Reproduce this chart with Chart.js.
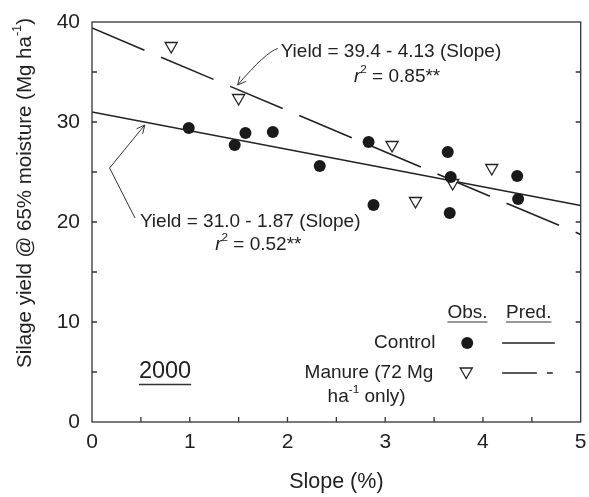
<!DOCTYPE html>
<html>
<head>
<meta charset="utf-8">
<script src="https://cdn.jsdelivr.net/npm/chart.js@4.4.1/dist/chart.umd.min.js"></script>
<style>
    html, body { margin: 0; padding: 0; background: #fff; }
</style>
</head>
<body>
<canvas id="yieldChart" width="589" height="497"></canvas>
<script>
// Observed silage yield vs slope, 2000
const controlSlope = [0.99, 1.46, 1.57, 1.85, 2.33, 2.83, 2.88, 3.64, 3.67, 3.66, 4.35, 4.36];
const controlYield = [29.4, 27.7, 28.9, 29.0, 25.6, 28.0, 21.7, 27.0, 24.5, 20.9, 24.6, 22.3];
const manureSlope = [0.81, 1.50, 3.07, 3.31, 3.69, 4.09];
const manureYield = [37.6, 32.4, 27.7, 22.1, 23.9, 25.4];

// Regression line end points
const fitSlope = [0, 5];
const controlFit = [31.0, 21.65];
const manureFit = [39.4, 18.75];

// Axis ticks
const xTicks = [0, 1, 2, 3, 4, 5];
const yTicks = [0, 10, 20, 30, 40];

const FAMILY = "'Liberation Sans', Arial, sans-serif";
const INK = '#222';

function toPoints(xs, ys) {
    return xs.map((x, i) => ({ x: x, y: ys[i] }));
}

// Draw text made of runs: [text, style] with style '', 'it' or 'sup'
function drawRich(ctx, runs, x, y, size, align) {
    const parts = runs.map(r => {
        const fs = r[1] === 'sup' ? size * 0.62 : size;
        const font = (r[1] === 'it' ? 'italic ' : '') + fs + 'px ' + FAMILY;
        ctx.font = font;
        return { t: r[0], font: font, w: ctx.measureText(r[0]).width, dy: r[1] === 'sup' ? -size * 0.38 : 0 };
    });
    const total = parts.reduce((s, p) => s + p.w, 0);
    let cx = align === 'center' ? x - total / 2 : (align === 'right' ? x - total : x);
    ctx.textAlign = 'left';
    ctx.textBaseline = 'middle';
    parts.forEach(p => {
        ctx.font = p.font;
        ctx.fillText(p.t, cx, y + p.dy);
        cx += p.w;
    });
    return total;
}

function arrowHead(ctx, tipX, tipY, fromX, fromY) {
    const a = Math.atan2(tipY - fromY, tipX - fromX);
    const len = 9, spread = 0.45;
    ctx.beginPath();
    ctx.moveTo(tipX - len * Math.cos(a - spread), tipY - len * Math.sin(a - spread));
    ctx.lineTo(tipX, tipY);
    ctx.lineTo(tipX - len * Math.cos(a + spread), tipY - len * Math.sin(a + spread));
    ctx.stroke();
}

const framePlugin = {
    id: 'frame',
    afterDraw(chart) {
        const ctx = chart.ctx;
        const xs = chart.scales.x, ys = chart.scales.y;
        const a = chart.chartArea;
        const px = v => xs.getPixelForValue(v);
        const py = v => ys.getPixelForValue(v);
        ctx.save();
        ctx.strokeStyle = '#333';
        ctx.fillStyle = INK;
        ctx.lineWidth = 1.3;

        // box
        ctx.strokeRect(a.left, a.top, a.right - a.left, a.bottom - a.top);

        // inward ticks: bottom every 0.5, left and right every 5
        ctx.beginPath();
        for (let v = 0.5; v < 5; v += 0.5) {
            ctx.moveTo(px(v), a.bottom);
            ctx.lineTo(px(v), a.bottom - 5);
        }
        for (let v = 5; v < 40; v += 5) {
            ctx.moveTo(a.left, py(v));
            ctx.lineTo(a.left + 5, py(v));
            ctx.moveTo(a.right, py(v));
            ctx.lineTo(a.right - 5, py(v));
        }
        ctx.stroke();

        // axis titles
        drawRich(ctx, [['Slope (%)', '']], (a.left + a.right) / 2, 482, 21.5, 'center');
        ctx.save();
        ctx.translate(25, 193);
        ctx.rotate(-Math.PI / 2);
        drawRich(ctx, [['Silage yield @ 65% moisture (Mg ha', ''], ['-1', 'sup'], [')', '']], 0, 0, 20.5, 'center');
        ctx.restore();

        // equations
        ctx.lineWidth = 1;
        drawRich(ctx, [['Yield = 39.4 - 4.13 (Slope)', '']], px(1.93), py(37.0), 19, 'left');
        drawRich(ctx, [['r', 'it'], ['2', 'sup'], [' = 0.85**', '']], px(2.68), py(34.5), 19, 'left');
        drawRich(ctx, [['Yield = 31.0 - 1.87 (Slope)', '']], px(0.49), py(20.0), 19, 'left');
        drawRich(ctx, [['r', 'it'], ['2', 'sup'], [' = 0.52**', '']], px(1.26), py(17.7), 19, 'left');

        // upper arrow (curved)
        const s0 = [px(1.90), py(37.35)], c0 = [px(1.78), py(37.0)], e0 = [px(1.49), py(33.7)];
        ctx.beginPath();
        ctx.moveTo(s0[0], s0[1]);
        ctx.quadraticCurveTo(c0[0], c0[1], e0[0], e0[1]);
        ctx.stroke();
        arrowHead(ctx, e0[0], e0[1], c0[0], c0[1]);

        // lower arrow (bent)
        const p1 = [px(0.44), py(20.4)], p2 = [px(0.18), py(25.4)], p3 = [px(0.54), py(29.7)];
        ctx.beginPath();
        ctx.moveTo(p1[0], p1[1]);
        ctx.lineTo(p2[0], p2[1]);
        ctx.lineTo(p3[0], p3[1]);
        ctx.stroke();
        arrowHead(ctx, p3[0], p3[1], p2[0], p2[1]);

        // year label
        ctx.lineWidth = 1.5;
        const w2000 = drawRich(ctx, [['2000', '']], px(0.48), py(5.0), 23.5, 'left');
        ctx.beginPath();
        ctx.moveTo(px(0.48), py(5.0) + 12.5);
        ctx.lineTo(px(0.48) + w2000, py(5.0) + 12.5);
        ctx.stroke();

        // legend
        ctx.lineWidth = 1.2;
        const wObs = drawRich(ctx, [['Obs.', '']], px(3.636), py(10.9), 19, 'left');
        const wPred = drawRich(ctx, [['Pred.', '']], px(4.236), py(10.9), 19, 'left');
        ctx.beginPath();
        ctx.moveTo(px(3.636), py(10.9) + 9);
        ctx.lineTo(px(3.636) + wObs, py(10.9) + 9);
        ctx.moveTo(px(4.236), py(10.9) + 9);
        ctx.lineTo(px(4.236) + wPred, py(10.9) + 9);
        ctx.stroke();

        drawRich(ctx, [['Control', '']], px(3.513), py(7.9), 19, 'right');
        drawRich(ctx, [['Manure (72 Mg', '']], px(3.493), py(4.9), 19, 'right');
        drawRich(ctx, [['ha', ''], ['-1', 'sup'], [' only)', '']], px(2.81), py(2.5), 19, 'center');

        ctx.fillStyle = '#1a1a1a';
        ctx.beginPath();
        ctx.arc(px(3.839), py(7.9), 6, 0, Math.PI * 2);
        ctx.fill();

        const tx = px(3.829), ty = py(4.9) - 1.5, r = 7;
        ctx.fillStyle = '#fff';
        ctx.strokeStyle = '#222';
        ctx.lineWidth = 1.3;
        ctx.beginPath();
        ctx.moveTo(tx, ty + r);
        ctx.lineTo(tx - r * 0.866, ty - r / 2);
        ctx.lineTo(tx + r * 0.866, ty - r / 2);
        ctx.closePath();
        ctx.fill();
        ctx.stroke();

        ctx.lineWidth = 1.5;
        ctx.beginPath();
        ctx.moveTo(px(4.196), py(7.9));
        ctx.lineTo(px(4.735), py(7.9));
        ctx.moveTo(px(4.196), py(4.9));
        ctx.lineTo(px(4.552), py(4.9));
        ctx.moveTo(px(4.654), py(4.9));
        ctx.lineTo(px(4.715), py(4.9));
        ctx.stroke();

        ctx.restore();
    }
};

function initializeChart() {
    Chart.defaults.font.family = FAMILY;
    Chart.defaults.color = INK;
    const ctx = document.getElementById('yieldChart').getContext('2d');
    return new Chart(ctx, {
        type: 'scatter',
        data: {
            datasets: [
                {
                    label: 'Control',
                    data: toPoints(controlSlope, controlYield),
                    pointStyle: 'circle',
                    pointRadius: 6,
                    pointBackgroundColor: '#1a1a1a',
                    pointBorderColor: '#1a1a1a',
                    pointBorderWidth: 0,
                    order: 1
                },
                {
                    label: 'Manure',
                    data: toPoints(manureSlope, manureYield),
                    pointStyle: 'triangle',
                    rotation: 180,
                    pointRadius: 7,
                    pointBackgroundColor: '#fff',
                    pointBorderColor: '#222',
                    pointBorderWidth: 1.3,
                    order: 1
                },
                {
                    type: 'line',
                    label: 'Control fit',
                    data: toPoints(fitSlope, controlFit),
                    borderColor: '#222',
                    borderWidth: 1.6,
                    pointRadius: 0,
                    fill: false,
                    order: 2
                },
                {
                    type: 'line',
                    label: 'Manure fit',
                    data: toPoints(fitSlope, manureFit),
                    borderColor: '#222',
                    borderWidth: 1.6,
                    borderDash: [57, 18],
                    pointRadius: 0,
                    fill: false,
                    order: 2
                }
            ]
        },
        options: {
            responsive: false,
            animation: false,
            devicePixelRatio: 1,
            layout: { padding: { left: 0, top: 22, right: 6, bottom: 0 } },
            plugins: {
                legend: { display: false },
                tooltip: { enabled: false }
            },
            scales: {
                x: {
                    type: 'linear',
                    min: 0,
                    max: 5,
                    afterFit: s => { s.height = 75; s.paddingLeft = 0; s.paddingRight = 0; },
                    afterBuildTicks: s => { s.ticks = xTicks.map(v => ({ value: v })); },
                    grid: { display: false, drawTicks: false },
                    border: { display: false },
                    ticks: { padding: 8, font: { size: 21 }, color: INK, maxRotation: 0 }
                },
                y: {
                    type: 'linear',
                    min: 0,
                    max: 40,
                    afterFit: s => { s.width = 92; s.paddingTop = 0; s.paddingBottom = 0; },
                    afterBuildTicks: s => { s.ticks = yTicks.map(v => ({ value: v })); },
                    grid: { display: false, drawTicks: false },
                    border: { display: false },
                    ticks: { padding: 12, font: { size: 21 }, color: INK }
                }
            }
        },
        plugins: [framePlugin]
    });
}

const chart = initializeChart();
</script>
</body>
</html>
